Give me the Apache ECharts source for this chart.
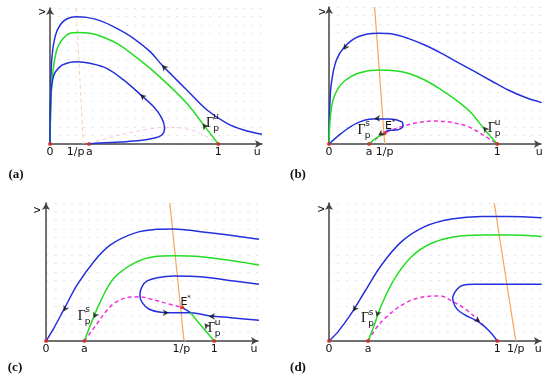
<!DOCTYPE html>
<html><head><meta charset="utf-8">
<script src="https://cdn.jsdelivr.net/npm/echarts@6/dist/echarts.min.js"></script>
<style>html,body{margin:0;padding:0;background:#fff}#c{width:550px;height:387px}</style>
</head><body><div id="c"></div>
<script>
// ---------- Panel (a) ----------
const aBlueOuter = [[0,0],[0.004,0.324],[0.010,0.618],[0.030,0.789],[0.060,0.875],[0.099,0.919],[0.155,0.936],[0.218,0.931],[0.298,0.907],[0.397,0.850],[0.496,0.777],[0.595,0.679],[0.665,0.581],[0.734,0.495],[0.813,0.397],[0.933,0.250],[1.052,0.152],[1.151,0.103],[1.260,0.071]];
const aGreen = [[0,0],[0.004,0.250],[0.014,0.495],[0.040,0.691],[0.079,0.777],[0.119,0.814],[0.163,0.819],[0.238,0.814],[0.298,0.794],[0.397,0.740],[0.496,0.654],[0.595,0.556],[0.694,0.446],[0.813,0.299],[0.913,0.140],[1.0,0]];
const aBlueInner = [[0,0],[0.003,0.30],[0.020,0.495],[0.060,0.569],[0.119,0.600],[0.163,0.605],[0.238,0.593],[0.337,0.556],[0.437,0.471],[0.536,0.365],[0.615,0.275],[0.665,0.189],[0.681,0.115],[0.665,0.066],[0.615,0.042],[0.536,0.025],[0.417,0.015],[0.298,0.007],[0.232,0]];
const aPink = [[0.232,0],[0.338,0.042],[0.457,0.079],[0.576,0.108],[0.695,0.123],[0.793,0.115],[0.893,0.079],[1.0,0]];
const aOrange = [[0.155,1.0],[0.198,0]];
const aPoints = [[0,0],[0.232,0],[1,0]];
const aArrows = [[0.665,0.581,43],[0.536,0.365,48],[0.907,0.150,38]];
const aTickVals = [0,0.152,0.234,1,1.232];
const aTickLabels = ['0','1/p','a','1','u'];

// ---------- Panel (b) ----------
const bBlueOuter = [[0,0],[0.004,0.248],[0.014,0.443],[0.044,0.613],[0.093,0.710],[0.173,0.783],[0.292,0.808],[0.391,0.800],[0.470,0.771],[0.569,0.723],[0.669,0.662],[0.768,0.594],[0.867,0.528],[0.966,0.460],[1.065,0.394],[1.165,0.341],[1.264,0.302]];
const bGreen = [[0,0],[0.008,0.200],[0.024,0.321],[0.054,0.406],[0.093,0.460],[0.173,0.516],[0.292,0.540],[0.391,0.535],[0.470,0.516],[0.569,0.467],[0.669,0.394],[0.768,0.309],[0.847,0.224],[0.927,0.102],[1.0,0]];
const bBlueInner = [[0,0],[0.073,0.078],[0.163,0.151],[0.262,0.182],[0.361,0.182],[0.431,0.163],[0.440,0.131],[0.401,0.102],[0.351,0.100],[0.331,0.078]];
const bGreenStable = [[0.238,0],[0.282,0.044],[0.331,0.078]];
const bPink = [[0.238,0],[0.331,0.078],[0.431,0.127],[0.530,0.156],[0.629,0.168],[0.728,0.158],[0.827,0.127],[0.927,0.058],[1.0,0]];
const bOrange = [[0.271,1.0],[0.331,0]];
const bPoints = [[0,0],[0.238,0],[0.331,0.078],[1,0]];
const bArrows = [[0.087,0.686,148],[0.268,0.187,90],[0.292,0.062,124],[0.917,0.127,39]];
const bTickVals = [0,0.238,0.331,1,1.25];
const bTickLabels = ['0','a','1/p','1','u'];

// ---------- Panel (c) ----------
const cBlueOuter = [[0,0],[0.046,0.092],[0.105,0.225],[0.185,0.406],[0.284,0.575],[0.383,0.696],[0.522,0.780],[0.661,0.809],[0.760,0.812],[0.919,0.792],[1.117,0.763],[1.266,0.737]];
const cGreen = [[0.228,0],[0.264,0.116],[0.323,0.285],[0.403,0.454],[0.522,0.563],[0.641,0.611],[0.760,0.618],[0.919,0.611],[1.117,0.580],[1.266,0.551]];
const cBlueInner = [[1.266,0.411],[1.117,0.435],[0.919,0.466],[0.760,0.471],[0.661,0.459],[0.601,0.435],[0.571,0.394],[0.558,0.333],[0.571,0.280],[0.611,0.232],[0.681,0.208],[0.760,0.205],[0.859,0.205],[0.978,0.181],[1.097,0.169],[1.266,0.150]];
const cBlueUnstable = [[0.809,0.244],[0.859,0.205]];
const cGreenUnstable = [[0.859,0.205],[0.919,0.116],[1.0,0]];
const cPink = [[0.228,0],[0.30,0.12],[0.36,0.22],[0.42,0.285],[0.50,0.318],[0.56,0.320],[0.62,0.305],[0.70,0.278],[0.809,0.244]];
const cOrange = [[0.736,1.0],[0.819,0.014],[0.830,0]];
const cPoints = [[0,0],[0.228,0],[0.809,0.244],[1,0]];
const cArrows = [[0.105,0.213,152],[0.284,0.164,157],[0.730,0.205,-90],[0.968,0.178,90],[0.942,0.128,39]];
const cTickVals = [0,0.228,0.805,1,1.236];
const cTickLabels = ['0','a','1/p','1','u'];

// ---------- Panel (d) ----------
const dBlueOuter = [[0,0],[0.054,0.068],[0.133,0.200],[0.212,0.357],[0.312,0.551],[0.431,0.720],[0.569,0.829],[0.728,0.884],[0.907,0.903],[1.065,0.903],[1.264,0.894]];
const dGreen = [[0.232,0],[0.262,0.092],[0.312,0.261],[0.391,0.454],[0.490,0.611],[0.609,0.708],[0.748,0.756],[0.907,0.768],[1.065,0.768],[1.264,0.758]];
const dBlueInner = [[1.264,0.411],[1.065,0.411],[0.867,0.411],[0.788,0.401],[0.758,0.370],[0.742,0.340],[0.735,0.309],[0.750,0.250],[0.778,0.212],[0.830,0.175],[0.887,0.140],[0.957,0.067],[1.0,0]];
const dPink = [[0.232,0],[0.312,0.140],[0.470,0.285],[0.629,0.326],[0.659,0.326],[0.738,0.285],[0.818,0.225],[0.887,0.152],[0.917,0.116]];
const dOrange = [[0.982,1.0],[1.110,0]];
const dPoints = [[0,0],[0.232,0],[1,0]];
const dArrows = [[0.143,0.213,148],[0.282,0.176,160],[0.897,0.135,230]];
const dTickVals = [0,0.232,1,1.11,1.244];
const dTickLabels = ['0','a','1','1/p','u'];

// ---------- styling & assembly ----------
const BLUE = '#2430dc', GREEN = '#22dd22', PINK = '#ee33dd', ORANGE = '#f5a45a';
const U_MAX = 1.26;

const grids = [
  {left:50, top:8, width:212, height:136},
  {left:329, top:7, width:212, height:137},
  {left:46, top:203, width:212, height:138},
  {left:329, top:203, width:212, height:138}
];
const tickVals = [aTickVals,bTickVals,cTickVals,dTickVals];
const tickLabels = [aTickLabels,bTickLabels,cTickLabels,dTickLabels];

const xAxes = grids.map((g,i)=>({
  type:'value', gridIndex:i, min:0, max:U_MAX,
  axisLine:{show:true, onZero:false, symbol:['none','arrow'], symbolSize:[6,7], lineStyle:{color:'#444', width:1.5}},
  axisTick:{show:false}, splitLine:{show:false},
  axisLabel:{customValues:tickVals[i], margin:3, color:'#111', fontSize:11, fontFamily:'DejaVu Sans',
    formatter:(v)=>{const k=tickVals[i].indexOf(v); return k>=0?tickLabels[i][k]:'';}}
}));
const yAxes = grids.map((g,i)=>({
  type:'value', gridIndex:i, min:0, max:1, interval:0.0625,
  axisLine:{show:true, onZero:false, symbol:['none','arrow'], symbolSize:[6,7], lineStyle:{color:'#444', width:1.5}},
  axisTick:{show:false}, axisLabel:{show:false},
  splitLine:{show:true, lineStyle:{color:'#e6e6e6', width:1, type:[2,6.4]}}
}));

function curve(g, data, color, o={}) {
  return {type:'line', xAxisIndex:g, yAxisIndex:g, data, symbol:'none', showSymbol:false,
    smooth:o.smooth===undefined?0.35:o.smooth, silent:true, z:o.z||3, clip:true,
    lineStyle:{color, width:o.w||1.5, type:o.dash?[4,3]:'solid'}};
}
function dots(g, data) {
  return {type:'scatter', xAxisIndex:g, yAxisIndex:g, data, symbol:'circle', symbolSize:4,
    itemStyle:{color:'#e02020'}, silent:true, z:6};
}
function arrows(g, data) {
  return {type:'scatter', xAxisIndex:g, yAxisIndex:g, silent:true, z:7,
    data:data.map(d=>({value:[d[0],d[1]], symbolRotate:d[2]})),
    symbol:'arrow', symbolSize:[5,6], itemStyle:{color:'#111'}};
}

const series = [
  curve(0,aOrange,'#f7cfae',{dash:true,smooth:false,w:1,z:1}),
  curve(0,aPink,'#f5c2ea',{dash:true,w:1,z:1}),
  curve(0,aBlueOuter,BLUE), curve(0,aGreen,GREEN), curve(0,aBlueInner,BLUE),
  dots(0,aPoints), arrows(0,aArrows),

  curve(1,bOrange,ORANGE,{smooth:false,w:1.2,z:2}),
  curve(1,bPink,PINK,{dash:true,z:2}),
  curve(1,bBlueOuter,BLUE), curve(1,bGreen,GREEN), curve(1,bBlueInner,BLUE),
  curve(1,bGreenStable,GREEN,{z:4}),
  dots(1,bPoints), arrows(1,bArrows),

  curve(2,cOrange,ORANGE,{smooth:false,w:1.2,z:2}),
  curve(2,cPink,PINK,{dash:true,z:2}),
  curve(2,cBlueOuter,BLUE), curve(2,cGreen,GREEN), curve(2,cBlueInner,BLUE),
  curve(2,cBlueUnstable,BLUE,{smooth:false}), curve(2,cGreenUnstable,GREEN,{z:4}),
  dots(2,cPoints), arrows(2,cArrows),

  curve(3,dOrange,ORANGE,{smooth:false,w:1.2,z:2}),
  curve(3,dPink,PINK,{dash:true,z:2}),
  curve(3,dBlueOuter,BLUE), curve(3,dGreen,GREEN), curve(3,dBlueInner,BLUE),
  dots(3,dPoints), arrows(3,dArrows)
];

// ---------- text annotations ----------
function txt(x,y,text,font,extra={}) {
  return Object.assign({type:'text', x, y, z:10, style:{text, font, fill:'#111', align:'center', verticalAlign:'middle'}}, extra);
}
function gammaLabel(x,y,sup) {
  return [txt(x,y,'Γ','14px "Liberation Serif"'),
          txt(x+6,y-6,sup,'9px "DejaVu Sans"'),
          txt(x+6,y+5.5,'p','9px "DejaVu Sans"')];
}
function eStar(x,y) {
  return [txt(x,y,'E','11px "DejaVu Sans"'), txt(x+5,y-4,'*','7px "DejaVu Sans"')];
}
const graphic = [].concat(
  txt(41.7,11.7,'v','11px "DejaVu Sans"',{rotation:Math.PI/2}),
  txt(321.7,11.7,'v','11px "DejaVu Sans"',{rotation:Math.PI/2}),
  txt(36.7,210,'v','11px "DejaVu Sans"',{rotation:Math.PI/2}),
  txt(321,209,'v','11px "DejaVu Sans"',{rotation:Math.PI/2}),
  txt(16,175,'(a)','bold 13px "Liberation Serif"'),
  txt(298,175,'(b)','bold 13px "Liberation Serif"'),
  txt(15,368,'(c)','bold 13px "Liberation Serif"'),
  txt(298,368,'(d)','bold 13px "Liberation Serif"'),
  gammaLabel(210,123,'u'),
  gammaLabel(361.5,130,'s'),
  gammaLabel(491.7,128.3,'u'),
  eStar(388.5,126.5),
  gammaLabel(81.7,316,'s'),
  eStar(184,302),
  gammaLabel(211.7,328.3,'u'),
  gammaLabel(365,318.3,'s')
);

const chart = echarts.init(document.getElementById('c'), null, {renderer:'canvas'});
chart.setOption({
  animation:false, backgroundColor:'#fff',
  grid:grids, xAxis:xAxes, yAxis:yAxes, series, graphic
});
</script></body></html>
